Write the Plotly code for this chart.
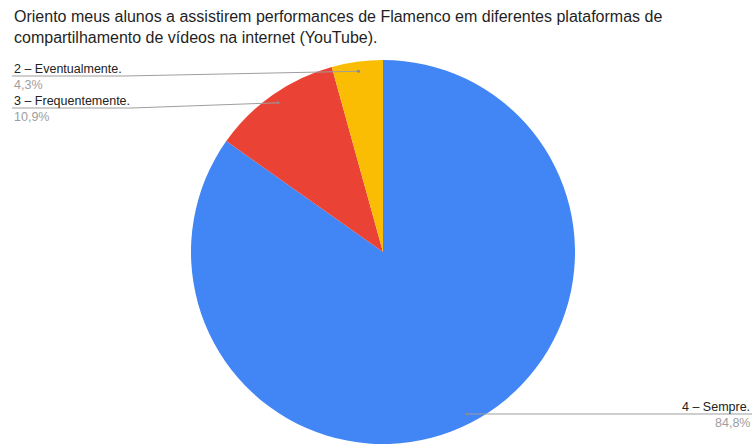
import math
import plotly.graph_objects as go

# Survey answers and their shares (%)
labels = ["4 – Sempre.", "3 – Frequentemente.", "2 – Eventualmente."]
values = [84.8, 10.9, 4.3]
pct_text = ["84,8%", "10,9%", "4,3%"]
colors = ["#4285F4", "#EA4335", "#FBBC04"]

title_lines = [
    "Oriento meus alunos a assistirem performances de Flamenco em diferentes plataformas de",
    "compartilhamento de vídeos na internet (YouTube).",
]

W, H = 753, 444
CX, CY, R = 383, 252, 192  # pie centre and radius in pixels


def px(x):
    return x / W


def py(y):
    return 1 - y / H


fig = go.Figure(
    go.Pie(
        labels=labels,
        values=values,
        marker=dict(colors=colors, line=dict(width=0)),
        sort=False,
        direction="clockwise",
        rotation=0,
        textinfo="none",
        hoverinfo="label+percent",
        showlegend=False,
        domain=dict(x=[px(CX - R), px(CX + R)], y=[py(CY + R), py(CY - R)]),
    )
)

# Anchor points for the leader lines: mid-angle of each slice at 95% radius
total = sum(values)
anchors = []
acc = 0.0
for v in values:
    mid = (acc + v / 2) / total * 2 * math.pi
    acc += v
    anchors.append((CX + 0.95 * R * math.sin(mid), CY - 0.95 * R * math.cos(mid)))

# Label layout: (side, text x, underline y, underline end x)
label_pos = {
    0: ("right", 752, 414, None),
    1: ("left", 12, 108, 132),
    2: ("left", 12, 76, 124),
}

annotations = []
shapes = []
line_color = "#9e9e9e"
font_family = "Liberation Sans, Arial"
for i, (side, tx, uy, ux) in label_pos.items():
    ax, ay = anchors[i]
    if side == "left":
        path = f"M {px(tx)} {py(uy)} L {px(ux)} {py(uy)} L {px(ax)} {py(ay)}"
        xanchor = "left"
    else:
        path = f"M {px(ax)} {py(ay)} L {px(tx)} {py(uy)}"
        xanchor = "right"
    shapes.append(dict(type="path", xref="paper", yref="paper", path=path,
                       line=dict(color=line_color, width=1)))
    shapes.append(dict(type="circle", xref="paper", yref="paper",
                       x0=px(ax - 1.6), x1=px(ax + 1.6), y0=py(ay + 1.6), y1=py(ay - 1.6),
                       fillcolor="#8a8a8a", line=dict(width=0)))
    annotations.append(dict(text=labels[i], x=px(tx), y=py(uy - 7), xref="paper", yref="paper",
                            xanchor=xanchor, yanchor="middle", showarrow=False,
                            font=dict(size=12.5, color="#222222", family=font_family)))
    annotations.append(dict(text=pct_text[i], x=px(tx), y=py(uy + 9), xref="paper", yref="paper",
                            xanchor=xanchor, yanchor="middle", showarrow=False,
                            font=dict(size=12.5, color="#9e9e9e", family=font_family)))

for j, t in enumerate(title_lines):
    annotations.append(dict(text=t, x=px(12), y=py(16.5 + 21 * j), xref="paper", yref="paper",
                            xanchor="left", yanchor="middle", showarrow=False,
                            font=dict(size=16, color="#1f1f1f", family=font_family)))

fig.update_layout(
    width=W,
    height=H,
    margin=dict(l=0, r=0, t=0, b=0),
    paper_bgcolor="white",
    plot_bgcolor="white",
    annotations=annotations,
    shapes=shapes,
)

fig.write_html("out.html")
